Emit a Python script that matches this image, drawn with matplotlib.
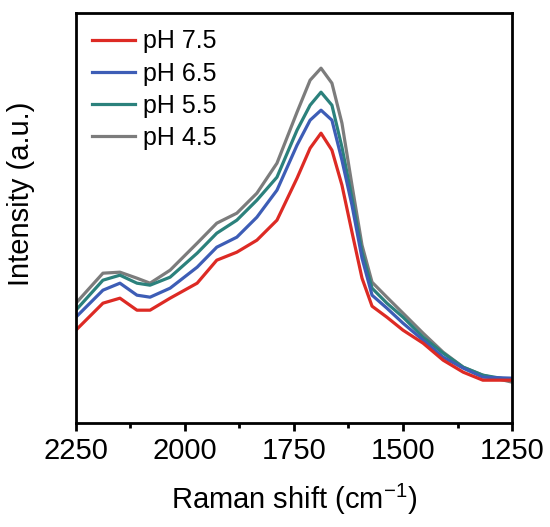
import matplotlib.pyplot as plt
from matplotlib.ticker import MultipleLocator

plt.rcParams["font.family"] = ["Liberation Sans", "DejaVu Sans"]
plt.rcParams["mathtext.fontset"] = "custom"
plt.rcParams["mathtext.rm"] = "Liberation Sans"

# Raman shift (cm^-1)
shift = [2250, 2188, 2149, 2110, 2080, 2034, 1972, 1927, 1881, 1835, 1789,
         1743, 1713, 1688, 1663, 1640, 1617, 1594, 1571, 1537, 1500, 1454,
         1408, 1362, 1317, 1250]

# intensities (a.u.)
ph75 = [93, 120, 125, 113, 113, 125, 140, 163, 171, 183, 203, 245, 275, 290,
        273, 238, 191, 145, 117, 106, 93, 80, 63, 51, 43, 43]
ph65 = [106, 133, 140, 128, 126, 135, 156, 176, 186, 206, 233, 278, 303, 313,
        303, 263, 218, 165, 128, 115, 100, 83, 66, 55, 46, 45]
ph55 = [113, 143, 148, 140, 138, 146, 170, 190, 203, 223, 246, 293, 318, 331,
        318, 276, 225, 171, 135, 120, 106, 86, 70, 56, 48, 43]
ph45 = [120, 150, 151, 145, 140, 153, 180, 200, 210, 230, 260, 311, 343, 355,
        340, 300, 238, 178, 141, 126, 110, 90, 71, 56, 48, 41]

labels = ["pH 7.5", "pH 6.5", "pH 5.5", "pH 4.5"]
colors = ["#DD2A24", "#3D5DB6", "#2B817C", "#7C7C7C"]
series = [ph75, ph65, ph55, ph45]

fig = plt.figure(figsize=(5.5, 5.27), dpi=100)
ax = fig.add_axes([0.138, 0.197, 0.793, 0.778])

lines = []
for ys, c, lab in reversed(list(zip(series, colors, labels))):
    (ln,) = ax.plot(shift, ys, color=c, lw=2.3, label=lab)
    lines.append(ln)
lines = lines[::-1]

ax.set_xlim(2250, 1250)
ax.set_ylim(0, 410)
ax.xaxis.set_major_locator(MultipleLocator(250))
ax.xaxis.set_minor_locator(MultipleLocator(125))
ax.set_yticks([])

for sp in ax.spines.values():
    sp.set_linewidth(2.0)
ax.tick_params(axis="x", which="major", direction="out", length=6, width=2,
               labelsize=21, pad=4)
ax.tick_params(axis="x", which="minor", direction="out", length=3.5, width=2)

ax.set_xlabel("Raman shift (cm$^{-1}$)", fontsize=21, labelpad=12)
ax.set_ylabel("Intensity (a.u.)", fontsize=21)
ax.yaxis.set_label_coords(-0.094, 0.56)

ax.legend(lines, labels, loc="upper left", frameon=False, fontsize=18,
          handlelength=1.7, handletextpad=0.35, labelspacing=0.33,
          borderaxespad=0.25, bbox_to_anchor=(0.0, 1.0))

fig.savefig("out.png", dpi=100)
